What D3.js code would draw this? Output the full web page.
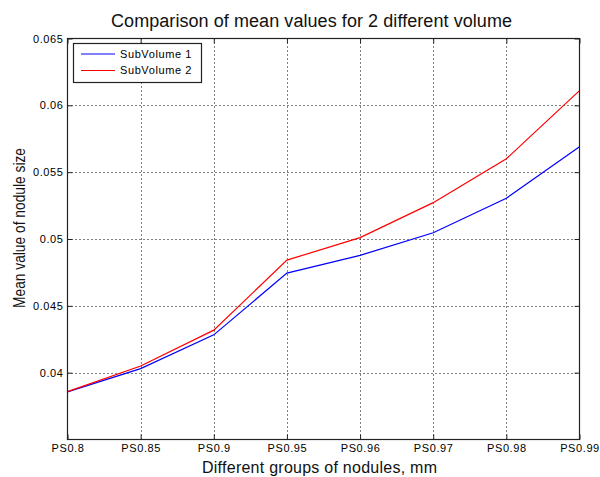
<!DOCTYPE html>
<html>
<head>
<meta charset="utf-8">
<script src="https://cdn.jsdelivr.net/npm/d3@7"></script>
<style>
  html, body { margin: 0; padding: 0; background: #fff; }
  svg { display: block; font-family: "Liberation Sans", Arial, sans-serif; }
</style>
</head>
<body>
<svg id="chart" width="600" height="477"></svg>
<script>
// Nodule groups and mean nodule sizes per sub-volume
const groups = ["PS0.8", "PS0.85", "PS0.9", "PS0.95", "PS0.96", "PS0.97", "PS0.98", "PS0.99"];
const subVolume1 = [0.03856, 0.0403, 0.04283, 0.04745, 0.04878, 0.05047, 0.05305, 0.0569];
const subVolume2 = [0.03858, 0.0405, 0.04318, 0.04842, 0.0501, 0.05272, 0.0560, 0.0611];
const yTicks = [0.04, 0.045, 0.05, 0.055, 0.06, 0.065];
const seriesNames = ["SubVolume 1", "SubVolume 2"];
const seriesColors = ["#0000ff", "#ff0000"];

const svg = d3.select("#chart");
const plotL = 67.5, plotR = 579.5, plotT = 38.5, plotB = 439.5;

const x = d3.scalePoint().domain(groups).range([plotL, plotR]);
const y = d3.scaleLinear().domain([0.035, 0.065]).range([plotB, plotT]);

const axisColor = "#222";
const tickLen = 5;

// Dotted grid
const grid = svg.append("g");
grid.selectAll(".gx").data(groups.slice(1, -1)).join("line")
  .attr("x1", d => Math.round(x(d)) + 0.5).attr("x2", d => Math.round(x(d)) + 0.5)
  .attr("y1", plotT).attr("y2", plotB)
  .attr("stroke", "#000").attr("stroke-width", 1).attr("stroke-dasharray", "1,3");
grid.selectAll(".gy").data(yTicks.slice(0, -1)).join("line")
  .attr("x1", plotL).attr("x2", plotR)
  .attr("y1", d => Math.round(y(d)) + 0.5).attr("y2", d => Math.round(y(d)) + 0.5)
  .attr("stroke", "#000").attr("stroke-width", 1).attr("stroke-dasharray", "1,3");

// Series lines
const line = d3.line().x((d, i) => x(groups[i])).y(d => y(d));
[subVolume1, subVolume2].forEach((vals, k) => {
  svg.append("path").datum(vals)
    .attr("d", line)
    .attr("fill", "none")
    .attr("stroke", seriesColors[k])
    .attr("stroke-width", 1.2);
});

// Axes: bottom/left with labels, top/right mirrored inward ticks
const fmtY = d => String(+d.toFixed(3));
const xAxis = d3.axisBottom(x).tickSizeInner(-tickLen).tickSizeOuter(0).tickPadding(5);
const yAxis = d3.axisLeft(y).tickValues(yTicks).tickFormat(fmtY).tickSizeInner(-tickLen).tickSizeOuter(0).tickPadding(4);

const gx = svg.append("g").attr("transform", `translate(0,${plotB})`).call(xAxis);
const gy = svg.append("g").attr("transform", `translate(${plotL},0)`).call(yAxis);
const gxt = svg.append("g").attr("transform", `translate(0,${plotT})`)
  .call(d3.axisTop(x).tickSizeInner(-tickLen).tickSizeOuter(0).tickFormat(""));
const gyr = svg.append("g").attr("transform", `translate(${plotR},0)`)
  .call(d3.axisRight(y).tickValues(yTicks).tickSizeInner(-tickLen).tickSizeOuter(0).tickFormat(""));

[gx, gy, gxt, gyr].forEach(g => {
  g.select(".domain").remove();
  g.selectAll(".tick line").attr("stroke", axisColor);
  g.selectAll("text").attr("fill", "#000").attr("font-size", 11)
    .attr("letter-spacing", 0.6).attr("font-family", "'Liberation Sans', Arial, sans-serif");
});

// Axes box
svg.append("rect")
  .attr("x", plotL).attr("y", plotT)
  .attr("width", plotR - plotL).attr("height", plotB - plotT)
  .attr("fill", "none").attr("stroke", axisColor).attr("stroke-width", 1.2);

// Title and axis labels
svg.append("text")
  .attr("x", 111).attr("y", 27)
  .attr("font-size", 18).attr("fill", "#111")
  .attr("textLength", 401).attr("lengthAdjust", "spacing")
  .text("Comparison of mean values for 2 different volume");

svg.append("text")
  .attr("x", 202).attr("y", 473)
  .attr("font-size", 16).attr("fill", "#111")
  .attr("textLength", 235).attr("lengthAdjust", "spacing")
  .text("Different groups of nodules, mm");

svg.append("text")
  .attr("transform", "translate(25,228) rotate(-90)")
  .attr("text-anchor", "middle").attr("font-size", 16).attr("fill", "#111")
  .attr("textLength", 160).attr("lengthAdjust", "spacingAndGlyphs")
  .text("Mean value of nodule size");

// Legend
const lg = svg.append("g");
lg.append("rect")
  .attr("x", 73.5).attr("y", 43.5).attr("width", 128).attr("height", 39)
  .attr("fill", "#fff").attr("stroke", axisColor).attr("stroke-width", 1.2);
seriesNames.forEach((name, k) => {
  const yy = 54 + k * 16.5;
  lg.append("line")
    .attr("x1", 81).attr("x2", 115).attr("y1", yy).attr("y2", yy)
    .attr("stroke", seriesColors[k]).attr("stroke-width", 1.2);
  lg.append("text")
    .attr("x", 120).attr("y", yy).attr("dy", "0.35em")
    .attr("font-size", 11).attr("letter-spacing", 0.6)
    .text(name);
});
</script>
</body>
</html>
